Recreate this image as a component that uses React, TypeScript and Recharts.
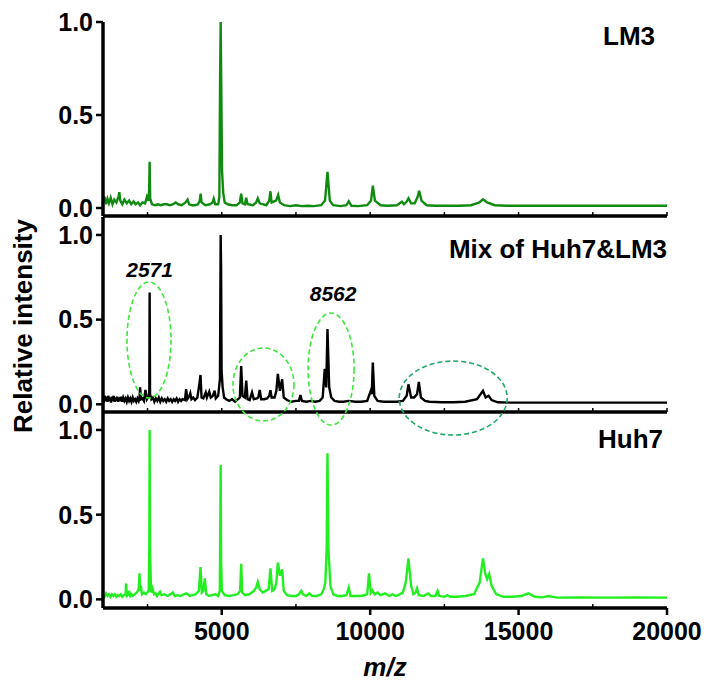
import { LineChart, Line, XAxis, YAxis, ReferenceDot } from "recharts";

const FONT = '"Liberation Sans", Arial, Helvetica, sans-serif';

// x ticks every 2500, labels on every 5000
const MZ_TICKS = [2500, 5000, 7500, 10000, 12500, 15000, 17500, 20000];
const INTENSITY_TICKS = [0, 0.5, 1];

// [m/z, relative intensity]
const lm3Spectrum: [number, number][] = [
  [1000, 0.03], [1050, 0.06], [1100, 0.02], [1150, 0.05], [1200, 0.025], [1260, 0.055], [1320, 0.02],
  [1380, 0.045], [1450, 0.03], [1520, 0.06], [1550, 0.085], [1580, 0.04], [1650, 0.02], [1720, 0.045],
  [1800, 0.025], [1880, 0.04], [1950, 0.02], [2030, 0.035], [2100, 0.02], [2180, 0.03], [2250, 0.015],
  [2330, 0.03], [2420, 0.025], [2480, 0.06], [2530, 0.04], [2555, 0.1], [2571, 0.248], [2590, 0.05],
  [2650, 0.02], [2760, 0.015], [2850, 0.02], [2950, 0.015], [3050, 0.02], [3150, 0.02], [3250, 0.015],
  [3350, 0.02], [3450, 0.03], [3530, 0.02], [3650, 0.015], [3780, 0.03], [3850, 0.045], [3900, 0.02],
  [4000, 0.015], [4100, 0.015], [4200, 0.02], [4260, 0.04], [4290, 0.077], [4320, 0.03], [4450, 0.015],
  [4600, 0.02], [4690, 0.03], [4730, 0.05], [4780, 0.02], [4880, 0.02], [4920, 0.06], [4945, 0.72],
  [4964, 1.0], [4985, 0.66], [5010, 0.2], [5050, 0.08], [5100, 0.03], [5200, 0.02], [5350, 0.015],
  [5500, 0.015], [5610, 0.03], [5655, 0.077], [5700, 0.025], [5780, 0.02], [5825, 0.055], [5870, 0.02],
  [6050, 0.015], [6160, 0.03], [6215, 0.052], [6280, 0.025], [6400, 0.02], [6500, 0.015], [6600, 0.04],
  [6640, 0.09], [6680, 0.03], [6830, 0.04], [6900, 0.07], [6960, 0.03], [7100, 0.015], [7300, 0.01],
  [7500, 0.015], [7700, 0.01], [7900, 0.012], [8100, 0.01], [8350, 0.015], [8480, 0.04], [8562, 0.194],
  [8640, 0.04], [8750, 0.015], [9000, 0.01], [9200, 0.015], [9280, 0.036], [9370, 0.012], [9600, 0.01],
  [9900, 0.015], [10030, 0.04], [10090, 0.12], [10160, 0.04], [10350, 0.015], [10600, 0.012],
  [10900, 0.015], [11070, 0.034], [11140, 0.02], [11230, 0.035], [11290, 0.052], [11380, 0.025],
  [11500, 0.025], [11600, 0.06], [11650, 0.093], [11730, 0.04], [11900, 0.015], [12200, 0.012],
  [12600, 0.012], [13000, 0.012], [13400, 0.015], [13680, 0.03], [13800, 0.047], [13940, 0.03],
  [14200, 0.015], [14600, 0.012], [15500, 0.012], [16500, 0.012], [17500, 0.012], [18500, 0.012],
  [20000, 0.012],
];

const mixSpectrum: [number, number][] = [
  [1000, 0.04], [1030, 0.01], [1060, 0.05], [1090, 0.02], [1120, 0.045], [1150, 0.015], [1180, 0.05],
  [1210, 0.02], [1240, 0.04], [1270, 0.01], [1300, 0.045], [1330, 0.02], [1360, 0.05], [1390, 0.015],
  [1420, 0.04], [1450, 0.02], [1480, 0.045], [1510, 0.015], [1540, 0.04], [1570, 0.02], [1600, 0.045],
  [1640, 0.015], [1680, 0.04], [1720, 0.02], [1760, 0.035], [1800, 0.015], [1840, 0.04], [1880, 0.02],
  [1920, 0.035], [1960, 0.015], [2000, 0.04], [2040, 0.02], [2080, 0.03], [2120, 0.015], [2160, 0.035],
  [2200, 0.02], [2230, 0.04], [2250, 0.1], [2280, 0.03], [2330, 0.035], [2380, 0.02], [2430, 0.085],
  [2480, 0.03], [2545, 0.05], [2560, 0.08], [2571, 0.66], [2585, 0.06], [2630, 0.03], [2680, 0.04],
  [2730, 0.015], [2780, 0.035], [2830, 0.02], [2880, 0.04], [2930, 0.015], [2980, 0.035], [3030, 0.02],
  [3080, 0.03], [3130, 0.015], [3180, 0.035], [3230, 0.02], [3280, 0.03], [3330, 0.015], [3380, 0.03],
  [3430, 0.02], [3480, 0.035], [3530, 0.015], [3580, 0.03], [3630, 0.02], [3680, 0.03], [3760, 0.025],
  [3800, 0.09], [3840, 0.03], [3900, 0.045], [3940, 0.065], [3980, 0.03], [4040, 0.04], [4100, 0.025],
  [4180, 0.04], [4250, 0.124], [4285, 0.173], [4320, 0.04], [4380, 0.035], [4460, 0.07], [4500, 0.04],
  [4580, 0.075], [4630, 0.04], [4700, 0.05], [4760, 0.08], [4800, 0.035], [4880, 0.05], [4940, 0.15],
  [4964, 1.0], [4978, 0.81], [4995, 0.2], [5030, 0.1], [5080, 0.04], [5150, 0.03], [5250, 0.02],
  [5350, 0.03], [5450, 0.015], [5550, 0.03], [5610, 0.04], [5655, 0.226], [5700, 0.05], [5780, 0.04],
  [5825, 0.14], [5870, 0.03], [5940, 0.025], [6020, 0.07], [6080, 0.03], [6180, 0.035], [6230, 0.04],
  [6280, 0.085], [6330, 0.03], [6430, 0.03], [6530, 0.035], [6600, 0.05], [6640, 0.083], [6680, 0.04],
  [6780, 0.04], [6840, 0.08], [6890, 0.18], [6960, 0.08], [7035, 0.148], [7090, 0.04], [7200, 0.025],
  [7350, 0.015], [7500, 0.02], [7600, 0.02], [7650, 0.055], [7700, 0.02], [7850, 0.015], [8000, 0.02],
  [8150, 0.015], [8300, 0.02], [8400, 0.04], [8470, 0.21], [8520, 0.1], [8562, 0.445], [8620, 0.1],
  [8690, 0.04], [8800, 0.02], [8950, 0.015], [9100, 0.015], [9280, 0.02], [9500, 0.015], [9700, 0.015],
  [9900, 0.02], [10020, 0.08], [10055, 0.06], [10090, 0.246], [10140, 0.05], [10250, 0.02],
  [10450, 0.015], [10700, 0.015], [10900, 0.015], [11100, 0.02], [11230, 0.05], [11290, 0.118],
  [11380, 0.04], [11480, 0.04], [11580, 0.06], [11640, 0.132], [11710, 0.04], [11850, 0.02],
  [12000, 0.015], [12400, 0.012], [12800, 0.012], [13200, 0.015], [13600, 0.03], [13800, 0.08],
  [13890, 0.04], [13990, 0.05], [14090, 0.025], [14300, 0.012], [14700, 0.01], [15500, 0.01],
  [16500, 0.01], [17500, 0.01], [18500, 0.01], [20000, 0.01],
];

const huh7Spectrum: [number, number][] = [
  [1000, 0.03], [1050, 0.015], [1100, 0.035], [1150, 0.02], [1200, 0.03], [1250, 0.015], [1300, 0.03],
  [1350, 0.02], [1400, 0.03], [1450, 0.015], [1500, 0.025], [1550, 0.02], [1600, 0.03], [1650, 0.015],
  [1700, 0.025], [1760, 0.03], [1780, 0.094], [1800, 0.02], [1840, 0.025], [1880, 0.05], [1920, 0.02],
  [1960, 0.03], [2010, 0.02], [2060, 0.03], [2140, 0.04], [2200, 0.06], [2230, 0.154], [2250, 0.05],
  [2280, 0.08], [2310, 0.03], [2380, 0.04], [2440, 0.03], [2540, 0.05], [2560, 0.3], [2571, 1.0],
  [2585, 0.3], [2620, 0.04], [2670, 0.065], [2720, 0.03], [2770, 0.035], [2820, 0.02], [2920, 0.045],
  [2970, 0.025], [3070, 0.03], [3170, 0.02], [3270, 0.03], [3350, 0.04], [3420, 0.02], [3520, 0.025],
  [3620, 0.02], [3720, 0.03], [3820, 0.035], [3920, 0.02], [4020, 0.025], [4120, 0.03], [4230, 0.05],
  [4285, 0.19], [4330, 0.04], [4380, 0.05], [4430, 0.124], [4480, 0.03], [4580, 0.02], [4680, 0.025],
  [4780, 0.03], [4880, 0.02], [4935, 0.05], [4964, 0.793], [4980, 0.22], [5005, 0.05], [5100, 0.025],
  [5250, 0.02], [5400, 0.025], [5530, 0.03], [5620, 0.05], [5655, 0.21], [5690, 0.04], [5780, 0.025],
  [5930, 0.03], [6080, 0.05], [6160, 0.07], [6215, 0.104], [6280, 0.06], [6380, 0.04], [6480, 0.05],
  [6580, 0.06], [6640, 0.183], [6700, 0.05], [6780, 0.06], [6840, 0.1], [6890, 0.217], [6960, 0.14],
  [7035, 0.177], [7090, 0.05], [7200, 0.025], [7350, 0.02], [7500, 0.02], [7600, 0.03], [7680, 0.05],
  [7740, 0.03], [7850, 0.02], [7950, 0.035], [8050, 0.02], [8200, 0.02], [8350, 0.03], [8440, 0.06],
  [8490, 0.1], [8535, 0.3], [8562, 0.862], [8595, 0.3], [8660, 0.08], [8760, 0.03], [8900, 0.02],
  [9050, 0.02], [9200, 0.025], [9280, 0.07], [9340, 0.02], [9500, 0.02], [9700, 0.02], [9900, 0.03],
  [9960, 0.154], [10020, 0.04], [10070, 0.055], [10150, 0.03], [10250, 0.04], [10350, 0.025],
  [10500, 0.035], [10650, 0.02], [10750, 0.03], [10850, 0.02], [10950, 0.025], [11100, 0.04],
  [11200, 0.1], [11290, 0.242], [11380, 0.08], [11460, 0.03], [11530, 0.04], [11580, 0.065],
  [11640, 0.025], [11800, 0.02], [11950, 0.035], [12050, 0.02], [12200, 0.02], [12270, 0.05],
  [12330, 0.02], [12500, 0.015], [12600, 0.025], [12700, 0.015], [12900, 0.015], [13200, 0.02],
  [13500, 0.03], [13690, 0.1], [13800, 0.242], [13880, 0.15], [13940, 0.12], [14010, 0.15],
  [14090, 0.08], [14250, 0.03], [14500, 0.015], [14800, 0.015], [15100, 0.02], [15330, 0.035],
  [15550, 0.015], [15800, 0.012], [16000, 0.02], [16300, 0.01], [17000, 0.012], [18000, 0.01],
  [19000, 0.012], [20000, 0.01],
];

function MzTick(props: any) {
  const { x, y, payload, labelled } = props;
  const major = payload.value % 5000 === 0;
  if (!labelled) {
    return <line x1={x} x2={x} y1={y} y2={y - 4} stroke="#000" strokeWidth={1.5} />;
  }
  return (
    <g>
      {major ? (
        <line x1={x} x2={x} y1={y} y2={y + 7} stroke="#000" strokeWidth={2.5} />
      ) : (
        <line x1={x} x2={x} y1={y} y2={y - 4} stroke="#000" strokeWidth={1.5} />
      )}
      {major && (
        <text x={x} y={y + 32} textAnchor="middle" fontFamily={FONT} fontWeight={700} fontSize={25} fill="#000">
          {payload.value}
        </text>
      )}
    </g>
  );
}

function Ring(rx: number, ry: number, color: string) {
  return (p: any) => (
    <ellipse cx={p.cx} cy={p.cy} rx={rx} ry={ry} fill="none" stroke={color} strokeWidth={1.6} strokeDasharray="5 3" />
  );
}

function PeakLabel(text: string) {
  return (p: any) => (
    <text x={p.cx} y={p.cy} textAnchor="middle" fontFamily={FONT} fontWeight={700} fontStyle="italic" fontSize={21} fill="#000">
      {text}
    </text>
  );
}

interface PanelProps {
  points: [number, number][];
  color: string;
  plotTop: number;
  plotBottom: number;
  chartHeight: number;
  axisHeight: number;
  domain: [number, number];
  labelled?: boolean;
  children?: any;
}

function Panel({ points, color, plotTop, plotBottom, chartHeight, axisHeight, domain, labelled, children }: PanelProps) {
  const data = points.map(([mz, v]) => ({ mz, v }));
  return (
    <div style={{ position: "absolute", left: 0, top: 0 }}>
      <LineChart
        width={704}
        height={chartHeight}
        data={data}
        margin={{ top: plotTop, right: 37, bottom: chartHeight - plotBottom - axisHeight, left: 0 }}
      >
        <XAxis
          type="number"
          dataKey="mz"
          domain={[1000, 20000]}
          allowDataOverflow
          ticks={MZ_TICKS}
          interval={0}
          height={axisHeight}
          tickSize={0}
          tickMargin={0}
          tickLine={false}
          axisLine={{ stroke: "#000", strokeWidth: 3.5 }}
          tick={(p: any) => <MzTick {...p} labelled={labelled} />}
        />
        <YAxis
          type="number"
          domain={domain}
          allowDataOverflow
          ticks={INTENSITY_TICKS}
          interval={0}
          width={103}
          tickSize={7}
          tickMargin={3}
          axisLine={{ stroke: "#000", strokeWidth: 3.5 }}
          tickLine={{ stroke: "#000", strokeWidth: 2.5 }}
          tick={{ fill: "#000", fontSize: 25, fontWeight: 700, fontFamily: FONT }}
          tickFormatter={(v: number) => v.toFixed(1)}
        />
        <Line type="linear" dataKey="v" stroke={color} strokeWidth={2.4} dot={false} isAnimationActive={false} />
        {children}
      </LineChart>
    </div>
  );
}

export default function App() {
  return (
    <div style={{ position: "absolute", left: 0, top: 0, width: 704, height: 685, background: "#fff", fontFamily: FONT }}>
      <Panel
        points={huh7Spectrum}
        color="#22ee22"
        plotTop={412}
        plotBottom={608}
        chartHeight={685}
        axisHeight={50}
        domain={[-0.051, 1.106]}
        labelled
      />
      <Panel
        points={mixSpectrum}
        color="#000000"
        plotTop={217}
        plotBottom={412}
        chartHeight={450}
        axisHeight={20}
        domain={[-0.0455, 1.106]}
      >
        <ReferenceDot x={2550} y={0.38} r={1} ifOverflow="visible" shape={Ring(22, 58, "#3be83b")} />
        <ReferenceDot x={6406} y={0.117} r={1} ifOverflow="visible" shape={Ring(30.5, 36.5, "#3be83b")} />
        <ReferenceDot x={8684} y={0.208} r={1} ifOverflow="visible" shape={Ring(23, 56, "#3be83b")} />
        <ReferenceDot x={12797} y={0.037} r={1} ifOverflow="visible" shape={Ring(54, 37, "#22a86a")} />
        <ReferenceDot x={2571} y={0.752} r={1} ifOverflow="visible" shape={PeakLabel("2571")} />
        <ReferenceDot x={8752} y={0.611} r={1} ifOverflow="visible" shape={PeakLabel("8562")} />
      </Panel>
      <Panel
        points={lm3Spectrum}
        color="#118a11"
        plotTop={22}
        plotBottom={216}
        chartHeight={234}
        axisHeight={18}
        domain={[-0.043, 1]}
      />
      <svg width={704} height={685} style={{ position: "absolute", left: 0, top: 0, pointerEvents: "none" }}>
        <g fontFamily={FONT} fontWeight={700} fontSize={26} fill="#000">
          <text x={655} y={45} textAnchor="end">LM3</text>
          <text x={667} y={258} textAnchor="end">Mix of Huh7&amp;LM3</text>
          <text x={663} y={448} textAnchor="end">Huh7</text>
          <text transform="translate(32 326) rotate(-90)" textAnchor="middle">Relative intensity</text>
          <text x={385} y={676} textAnchor="middle" fontStyle="italic">m/z</text>
        </g>
      </svg>
    </div>
  );
}
